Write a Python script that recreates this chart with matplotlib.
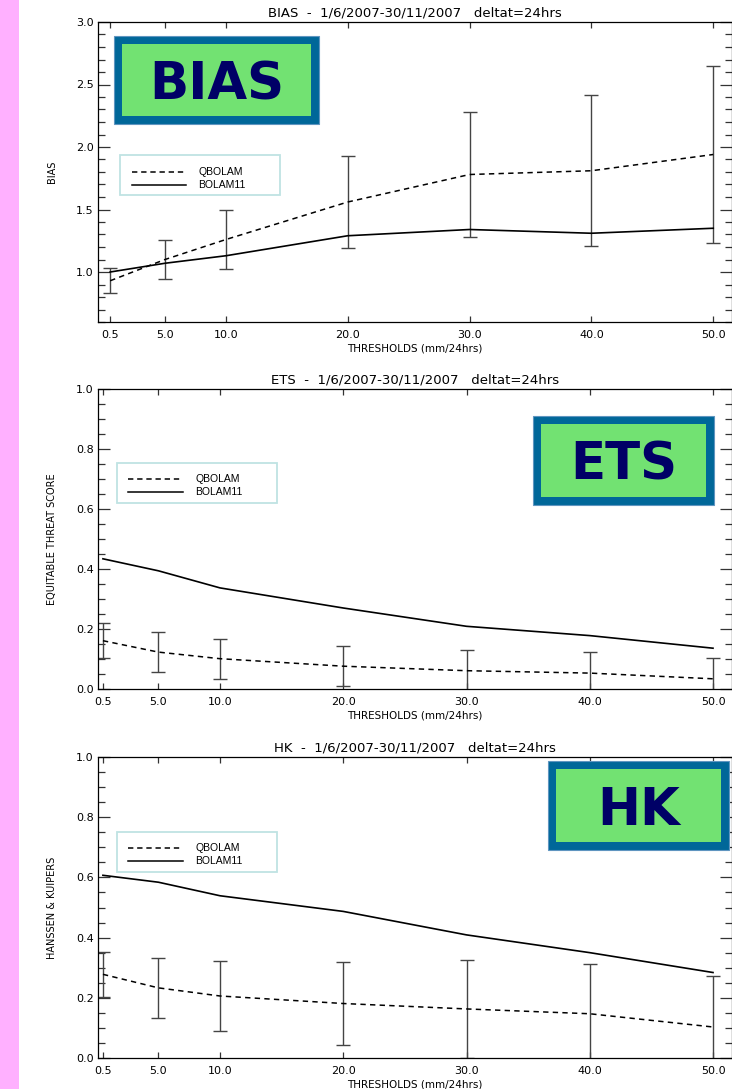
import matplotlib
matplotlib.use("Agg")
import matplotlib.pyplot as plt
from matplotlib.patches import Rectangle
from matplotlib.lines import Line2D
from matplotlib.ticker import MultipleLocator, FormatStrFormatter

# ---------------------------------------------------------------------------
# Data
# ---------------------------------------------------------------------------
thresholds = [0.5, 5.0, 10.0, 20.0, 30.0, 40.0, 50.0]
threshold_labels = ["0.5", "5.0", "10.0", "20.0", "30.0", "40.0", "50.0"]
series_names = ["QBOLAM", "BOLAM11"]

bias_qbolam = [0.93, 1.10, 1.26, 1.56, 1.78, 1.81, 1.94]
bias_bolam11 = [1.00, 1.07, 1.13, 1.29, 1.34, 1.31, 1.35]
bias_err = [0.10, 0.155, 0.235, 0.365, 0.50, 0.605, 0.705]

ets_qbolam = [0.161, 0.123, 0.101, 0.076, 0.061, 0.053, 0.034]
ets_bolam11 = [0.434, 0.394, 0.337, 0.270, 0.209, 0.178, 0.136]
ets_err = [0.058, 0.066, 0.066, 0.066, 0.068, 0.071, 0.069]

hk_qbolam = [0.278, 0.233, 0.206, 0.181, 0.163, 0.147, 0.103]
hk_bolam11 = [0.607, 0.584, 0.539, 0.487, 0.409, 0.350, 0.284]
hk_err = [0.075, 0.100, 0.115, 0.139, 0.163, 0.166, 0.170]

period = "1/6/2007-30/11/2007   deltat=24hrs"

W, H = 732, 1089
fig = plt.figure(figsize=(W / 100, H / 100), dpi=100)
plt.rcParams["font.family"] = ["DejaVu Sans"]


def px_rect(x0, y0, x1, y1):
    """Pixel box (top-left origin) -> figure fraction [left, bottom, w, h]."""
    return [x0 / W, 1 - y1 / H, (x1 - x0) / W, (y1 - y0) / H]


def fx(x):
    return x / W


def fy(y):
    return 1 - y / H


# pink strip on the left edge
fig.patches.append(Rectangle((0, 0), fx(19), 1, transform=fig.transFigure,
                             facecolor="#ffb0ff", edgecolor="none", zorder=0))


# ---------------------------------------------------------------------------
# Panels
# ---------------------------------------------------------------------------
def draw_panel(rect, qbolam, bolam11, err, ylim, major, minor, xlim, title, ylabel):
    ax = fig.add_axes(px_rect(*rect))
    ax.errorbar(thresholds, qbolam, yerr=err, fmt="none", ecolor="#444444",
                elinewidth=1.0, capsize=5, capthick=1.0, zorder=2)
    ax.plot(thresholds, qbolam, color="black", linestyle="--", dashes=(3.5, 2.8),
            linewidth=1.1, zorder=3)
    ax.plot(thresholds, bolam11, color="black", linestyle="-", linewidth=1.2, zorder=3)

    ax.set_xlim(*xlim)
    ax.set_ylim(*ylim)
    ax.set_xticks(thresholds)
    ax.set_xticklabels(threshold_labels)
    ax.yaxis.set_major_locator(MultipleLocator(major))
    ax.yaxis.set_minor_locator(MultipleLocator(minor))
    ax.yaxis.set_major_formatter(FormatStrFormatter("%.1f"))

    ax.tick_params(axis="both", which="both", direction="in", top=True, right=True,
                   labelsize=8, width=0.9, color="#333333")
    ax.tick_params(axis="y", which="major", length=8.5, pad=3)
    ax.tick_params(axis="y", which="minor", length=5)
    ax.tick_params(axis="x", which="major", length=4.5, pad=6)
    for spine in ax.spines.values():
        spine.set_linewidth(0.9)

    ax.set_title(title, fontsize=9.5, pad=4)
    ax.set_xlabel("THRESHOLDS (mm/24hrs)", fontsize=7.5, labelpad=2.5)
    ax.set_ylabel(ylabel, fontsize=7)
    ax.yaxis.set_label_coords(-0.065, 0.5)
    return ax


draw_panel((98, 22, 731.5, 322), bias_qbolam, bias_bolam11, bias_err,
           (0.6, 3.0), 0.5, 0.1, (-0.5, 51.5), "BIAS  -  " + period, "BIAS")
draw_panel((98, 389, 731.5, 689), ets_qbolam, ets_bolam11, ets_err,
           (0.0, 1.0), 0.2, 0.05, (0.1, 51.5), "ETS  -  " + period,
           "EQUITABLE THREAT SCORE")
draw_panel((98, 757, 731.5, 1058), hk_qbolam, hk_bolam11, hk_err,
           (0.0, 1.0), 0.2, 0.05, (0.1, 51.5), "HK  -  " + period,
           "HANSSEN & KUIPERS")


# ---------------------------------------------------------------------------
# Legends and score badges (figure-level overlays)
# ---------------------------------------------------------------------------
def draw_legend(x0, y0, x1, y1, line_x0, line_x1, text_x, rows):
    fig.patches.append(Rectangle((fx(x0), fy(y1)), fx(x1) - fx(x0), fy(y0) - fy(y1),
                                 transform=fig.transFigure, facecolor="white",
                                 edgecolor="#bfe3e3", linewidth=1.3, zorder=4))
    styles = ["--", "-"]
    for name, style, y in zip(series_names, styles, rows):
        line = Line2D([fx(line_x0), fx(line_x1)], [fy(y), fy(y)], transform=fig.transFigure,
                      color="black", linestyle=style, linewidth=1.1, zorder=5)
        if style == "--":
            line.set_dashes((3.5, 2.5))
        fig.lines.append(line)
        fig.text(fx(text_x), fy(y), name, fontsize=7.5, family=["Liberation Sans"],
                 va="center", ha="left", zorder=6)


draw_legend(120, 155, 280, 195, 132, 186, 198, (172, 185))
draw_legend(117, 463, 277, 503, 128, 183, 195, (479, 492))
draw_legend(117, 832, 277, 872, 128, 183, 195, (848, 861))


def draw_badge(x0, y0, x1, y1, label):
    fig.patches.append(Rectangle((fx(x0), fy(y1)), fx(x1) - fx(x0), fy(y0) - fy(y1),
                                 transform=fig.transFigure, facecolor="#006799",
                                 edgecolor="#5f95c0", linewidth=0.8, zorder=4))
    b = 8
    fig.patches.append(Rectangle((fx(x0 + b), fy(y1 - b)), fx(x1 - b) - fx(x0 + b),
                                 fy(y0 + b) - fy(y1 - b), transform=fig.transFigure,
                                 facecolor="#72e272", edgecolor="none", zorder=5))
    fig.text(fx((x0 + x1) / 2), fy((y0 + y1) / 2), label, fontsize=37, fontweight="bold",
             color="#000066", ha="center", va="center_baseline", zorder=6)


draw_badge(114, 36, 319, 124, "BIAS")
draw_badge(533, 416, 714, 505, "ETS")
draw_badge(548, 761, 729, 850, "HK")

fig.savefig("out.png", dpi=100)
